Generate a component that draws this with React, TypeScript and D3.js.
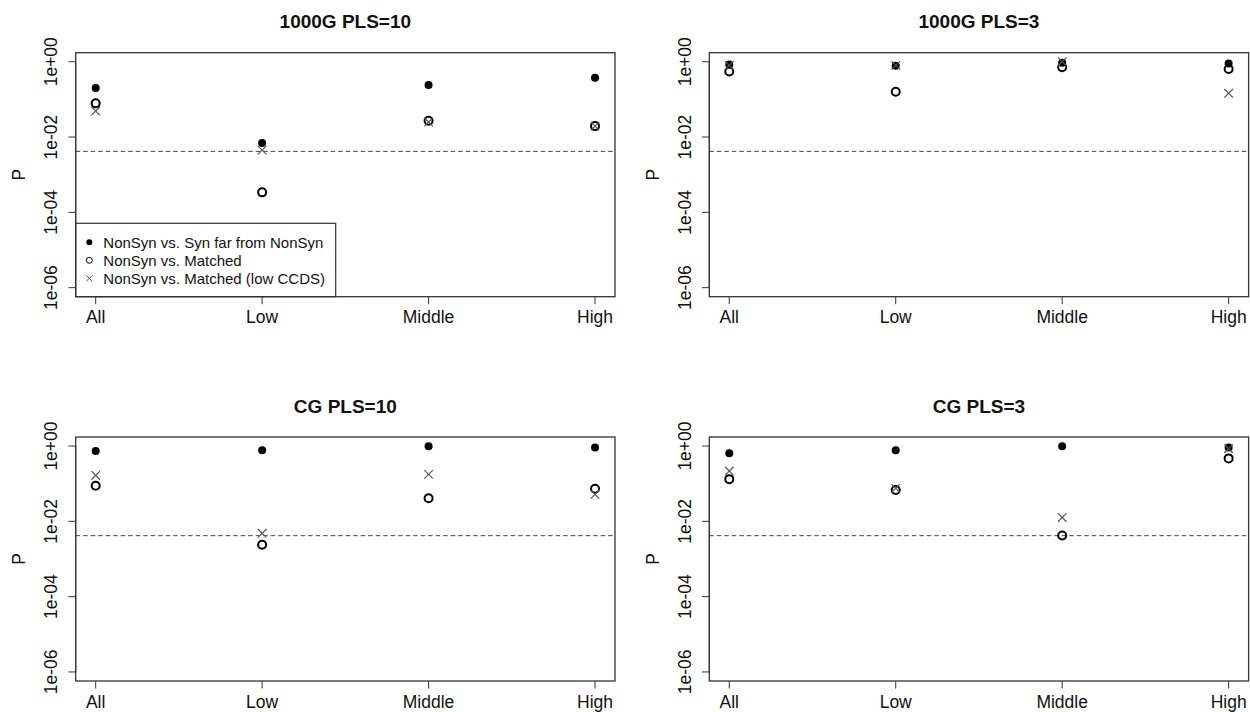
import React from "react";
import * as d3 from "d3";

// categories and tick labels
const categories = ["All", "Low", "Middle", "High"];
const panelTitles = ["1000G PLS=10", "1000G PLS=3", "CG PLS=10", "CG PLS=3"];
const yTicks = [1, 1e-2, 1e-4, 1e-6];
const yTickLabels = ["1e+00", "1e-02", "1e-04", "1e-06"];
const legendLabels = [
  "NonSyn vs. Syn far from NonSyn",
  "NonSyn vs. Matched",
  "NonSyn vs. Matched (low CCDS)",
];
const threshold = 0.05 / 12;

// P values per panel (All, Low, Middle, High)
const farSyn1000G10 = [0.2, 0.0069, 0.24, 0.376];
const matched1000G10 = [0.0785, 0.00034, 0.027, 0.0195];
const lowCcds1000G10 = [0.049, 0.0045, 0.025, 0.0195];

const farSyn1000G3 = [0.85, 0.78, 0.94, 0.9];
const matched1000G3 = [0.55, 0.16, 0.71, 0.64];
const lowCcds1000G3 = [0.8, 0.8, 1.0, 0.145];

const farSynCG10 = [0.74, 0.77, 0.98, 0.92];
const matchedCG10 = [0.088, 0.0024, 0.041, 0.073];
const lowCcdsCG10 = [0.166, 0.0048, 0.177, 0.052];

const farSynCG3 = [0.64, 0.77, 0.99, 0.92];
const matchedCG3 = [0.132, 0.068, 0.0042, 0.47];
const lowCcdsCG3 = [0.216, 0.075, 0.0127, 0.85];

const panels = [
  { title: panelTitles[0], far: farSyn1000G10, matched: matched1000G10, low: lowCcds1000G10, legend: true },
  { title: panelTitles[1], far: farSyn1000G3, matched: matched1000G3, low: lowCcds1000G3, legend: false },
  { title: panelTitles[2], far: farSynCG10, matched: matchedCG10, low: lowCcdsCG10, legend: false },
  { title: panelTitles[3], far: farSynCG3, matched: matchedCG3, low: lowCcdsCG3, legend: false },
];

const W = 1250;
const H = 712;
const font = "'Liberation Sans', Arial, Helvetica, sans-serif";
const ink = "#111";
const boxColor = "#333";
const crossColor = "#555";

// plot box of the top-left panel; other panels are shifted
const box = { left: 75.7, right: 615, top: 52.7, bottom: 296.7 };
const offX = [0, 633.6];
const offY = [0, 384.3];

const Cross = ({ x, y, s, color, w }) => (
  <g stroke={color} strokeWidth={w}>
    <line x1={x - s} y1={y - s} x2={x + s} y2={y + s} />
    <line x1={x - s} y1={y + s} x2={x + s} y2={y - s} />
  </g>
);

const Panel = ({ p, dx, dy }) => {
  const left = box.left + dx;
  const right = box.right + dx;
  const top = box.top + dy;
  const bottom = box.bottom + dy;

  const x = d3.scaleLinear().domain([0.88, 4.12]).range([left, right]);
  const y = d3
    .scaleLog()
    .domain([Math.pow(10, -6.24), Math.pow(10, 0.24)])
    .range([bottom, top]);

  const cx = (i) => x(i + 1);
  const midX = (left + right) / 2;
  const midY = (top + bottom) / 2;

  return (
    <g>
      <text
        x={midX}
        y={dy + 28.3}
        textAnchor="middle"
        fontWeight="bold"
        fontSize={19}
        fill={ink}
      >
        {p.title}
      </text>

      {/* y axis */}
      <line x1={left} x2={left} y1={y(1e-6)} y2={y(1)} stroke={boxColor} strokeWidth={1} />
      {yTicks.map((t, i) => (
        <g key={t}>
          <line x1={left - 7.3} x2={left} y1={y(t)} y2={y(t)} stroke={boxColor} strokeWidth={1} />
          <text
            transform={`translate(${dx + 57},${y(t)}) rotate(-90)`}
            textAnchor="middle"
            fontSize={17.5}
            fill={ink}
          >
            {yTickLabels[i]}
          </text>
        </g>
      ))}
      <text
        transform={`translate(${dx + 25},${midY}) rotate(-90)`}
        textAnchor="middle"
        fontSize={17.5}
        fill={ink}
      >
        P
      </text>

      {/* x axis */}
      {categories.map((c, i) => (
        <g key={c}>
          <line x1={cx(i)} x2={cx(i)} y1={bottom} y2={bottom + 7.5} stroke={boxColor} strokeWidth={1} />
          <text x={cx(i)} y={bottom + 26.6} textAnchor="middle" fontSize={17.5} fill={ink}>
            {c}
          </text>
        </g>
      ))}

      {/* threshold line */}
      <line
        x1={left}
        x2={right}
        y1={y(threshold)}
        y2={y(threshold)}
        stroke="#444"
        strokeWidth={1}
        strokeDasharray="4.5,3"
      />

      {/* points */}
      {p.far.map((v, i) => (
        <circle key={"f" + i} cx={cx(i)} cy={y(v)} r={4} fill="#000" />
      ))}
      {p.matched.map((v, i) => (
        <circle key={"m" + i} cx={cx(i)} cy={y(v)} r={4} fill="none" stroke="#000" strokeWidth={2} />
      ))}
      {p.low.map((v, i) => (
        <Cross key={"l" + i} x={cx(i)} y={y(v)} s={4.3} color={crossColor} w={1.2} />
      ))}

      {p.legend && (
        <g>
          <rect
            x={left}
            y={top + 170.6}
            width={260}
            height={bottom - top - 170.6}
            fill="#fff"
            stroke={boxColor}
            strokeWidth={1.2}
          />
          {legendLabels.map((lab, i) => {
            const ly = top + 189.6 + i * 18;
            return (
              <g key={lab}>
                {i === 0 && <circle cx={left + 13.6} cy={ly} r={3} fill="#000" />}
                {i === 1 && <circle cx={left + 13.6} cy={ly} r={3} fill="none" stroke="#000" strokeWidth={1} />}
                {i === 2 && <Cross x={left + 13.6} y={ly} s={3} color={crossColor} w={1} />}
                <text x={left + 27.6} y={ly + 5.2} fontSize={15} fill={ink}>
                  {lab}
                </text>
              </g>
            );
          })}
        </g>
      )}

      {/* box */}
      <rect
        x={left}
        y={top}
        width={right - left}
        height={bottom - top}
        fill="none"
        stroke={boxColor}
        strokeWidth={1.3}
      />
    </g>
  );
};

export default function App() {
  return (
    <svg
      width={W}
      height={H}
      style={{ position: "absolute", left: 0, top: 0, background: "#fff" }}
      fontFamily={font}
    >
      {panels.map((p, k) => (
        <Panel key={p.title} p={p} dx={offX[k % 2]} dy={offY[Math.floor(k / 2)]} />
      ))}
    </svg>
  );
}
